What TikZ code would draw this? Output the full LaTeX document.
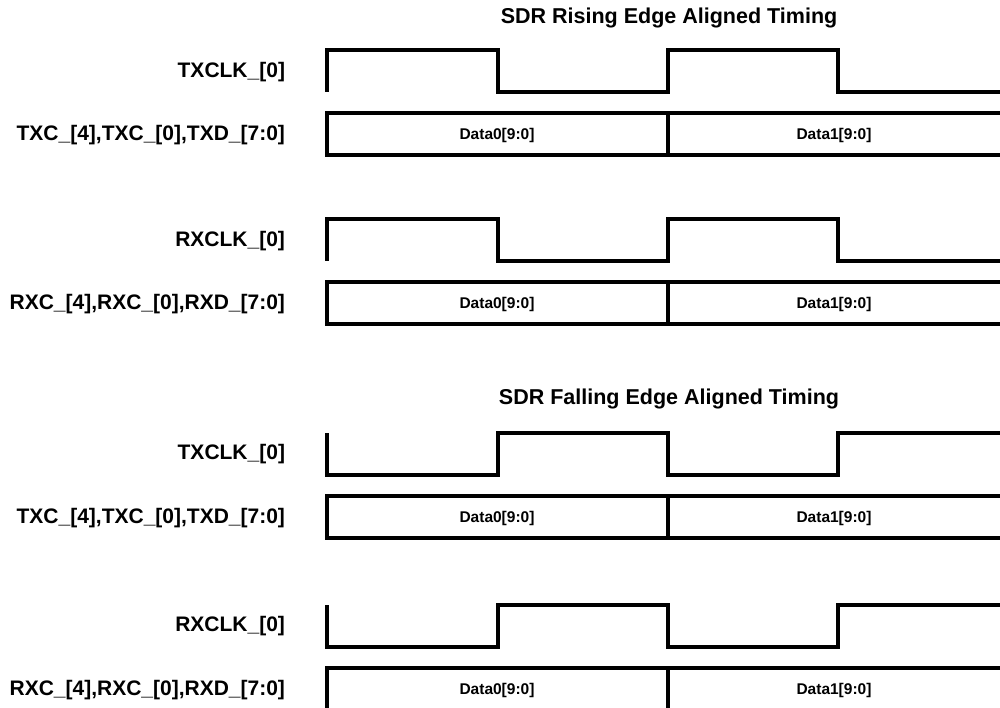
\documentclass[tikz,border=0pt]{standalone}
\usepackage{fontspec}
\setmainfont{Liberation Sans}
\usetikzlibrary{calc}

\begin{document}
\begin{tikzpicture}[x=1pt,y=-1pt,line width=4pt,
        sig/.style={font=\bfseries\fontsize{21}{24}\selectfont,anchor=east,inner sep=0pt},
        dat/.style={font=\bfseries\fontsize{15.5}{18}\selectfont},
        ttl/.style={font=\bfseries\fontsize{21.5}{24}\selectfont}]
        \useasboundingbox (0,0) rectangle (1000,708);
        % rising edge aligned
        \node[ttl] (rise) at (669,18) {SDR Rising Edge Aligned Timing};
        \foreach \y/\n in {0/T,169/R} {
        \draw[shift={(0,\y)}] (327,92) -- (327,50) -- (498,50) -- (498,92)
            -- (668,92) -- (668,50) -- (838,50) -- (838,92) -- (1003,92);
        \draw[shift={(0,\y)}] (1003,113) -- (327,113) -- (327,155) -- (1003,155);
        \draw[shift={(0,\y)}] (668,113) -- (668,155);
        \node[sig] (clk\n r) at (287,72+\y) {\n XCLK\_[0]};
        \node[sig] (bus\n r) at (287,135+\y) {\n XC\_[4],\n XC\_[0],\n XD\_[7:0]};
        \node[dat] (d0\n r) at (497,135+\y) {Data0[9:0]};
        \node[dat] (d1\n r) at (834,135+\y) {Data1[9:0]};
        }
        % falling edge aligned
        \node[ttl] (fall) at (669,399) {SDR Falling Edge Aligned Timing};
        \foreach \y/\n in {383/T,555/R} {
        \draw[shift={(0,\y)}] (327,50) -- (327,92) -- (498,92) -- (498,50)
            -- (668,50) -- (668,92) -- (838,92) -- (838,50) -- (1003,50);
        \draw[shift={(0,\y)}] (1003,113) -- (327,113) -- (327,155) -- (1003,155);
        \draw[shift={(0,\y)}] (668,113) -- (668,155);
        \node[sig] (clk\n f) at (287,71+\y) {\n XCLK\_[0]};
        \node[sig] (bus\n f) at (287,135+\y) {\n XC\_[4],\n XC\_[0],\n XD\_[7:0]};
        \node[dat] (d0\n f) at (497,135+\y) {Data0[9:0]};
        \node[dat] (d1\n f) at (834,135+\y) {Data1[9:0]};
        }
\end{tikzpicture}
\end{document}
